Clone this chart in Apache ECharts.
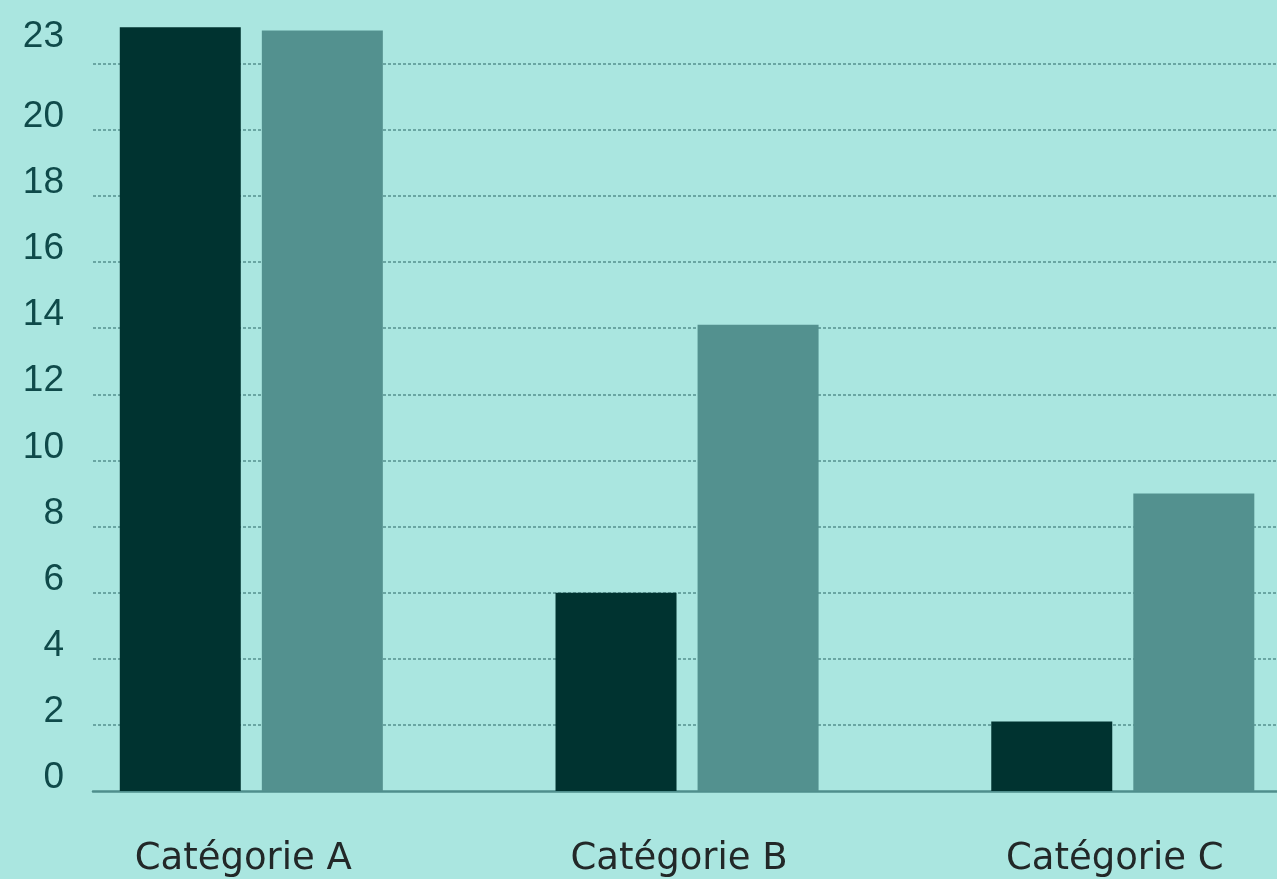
<!DOCTYPE html>
<html>
<head>
<meta charset="utf-8">
<style>
  html, body { margin: 0; padding: 0; background: #aae6e0; }
  #chart { width: 1277px; height: 879px; }
</style>
<script src="https://cdn.jsdelivr.net/npm/echarts@6/dist/echarts.min.js"></script>
</head>
<body>
<div id="chart"></div>
<script>
// Categories and the two series of values
const categories = ['Catégorie A', 'Catégorie B', 'Catégorie C'];
const seriesDark = [23.1, 6.0, 2.1];
const seriesTeal = [23.0, 14.1, 9.0];
// Labelled ticks on the value axis
const yTickLabels = [0, 2, 4, 6, 8, 10, 12, 14, 16, 18, 20, 23];
const yMax = 23;
const yStep = 2;

const chart = echarts.init(document.getElementById('chart'), null, { renderer: 'canvas' });

const toPoints = (vals) => vals.map((v, i) => [i, v]);

const option = {
  backgroundColor: '#aae6e0',
  animation: false,
  grid: {
    left: 93,
    right: 0,
    top: 30.6,
    bottom: 88,
    outerBoundsMode: 'none',
    containLabel: false
  },
  xAxis: {
    type: 'value',
    min: -0.3633,
    max: 2.3539,
    splitLine: { show: false },
    axisTick: { show: false },
    axisLine: {
      show: true,
      onZero: false,
      lineStyle: { color: '#4f8e8c', width: 2.5 }
    },
    axisLabel: {
      customValues: [0, 1, 2],
      formatter: (v) => categories[Math.round(v)] || '',
      fontFamily: 'DejaVu Sans',
      fontWeight: 'normal',
      fontSize: 37,
      color: '#222828',
      margin: 50,
      padding: [0, 16, 0, 0]
    }
  },
  yAxis: {
    type: 'value',
    min: 0,
    max: yMax,
    interval: yStep,
    axisLine: { show: false },
    axisTick: { show: false },
    splitLine: {
      show: true,
      showMinLine: false,
      showMaxLine: false,
      lineStyle: { color: '#6aa6a3', width: 2, type: [3, 2] }
    },
    axisLabel: {
      showMaxLabel: true,
      showMinLabel: true,
      hideOverlap: false,
      margin: 29,
      verticalAlign: 'middle',
      formatter: (v) => {
        if (!yTickLabels.includes(v)) return '';
        if (v === yMax) return '{t| }\n{n|' + v + '}';
        return '{n|' + v + '}\n{g| }';
      },
      rich: {
        n: { fontFamily: 'Liberation Sans', fontSize: 37, lineHeight: 38, color: '#0f4a4a' },
        g: { fontSize: 10, lineHeight: 26 },
        t: { fontSize: 10, lineHeight: 12 }
      }
    }
  },
  series: [
    {
      name: 'Série 1',
      type: 'bar',
      data: toPoints(seriesDark),
      barWidth: 121,
      barGap: '17.4%',
      clip: false,
      itemStyle: { color: '#003330' }
    },
    {
      name: 'Série 2',
      type: 'bar',
      data: toPoints(seriesTeal),
      barWidth: 121,
      barGap: '17.4%',
      clip: false,
      itemStyle: { color: '#53918f' }
    }
  ]
};

chart.setOption(option);
</script>
</body>
</html>
